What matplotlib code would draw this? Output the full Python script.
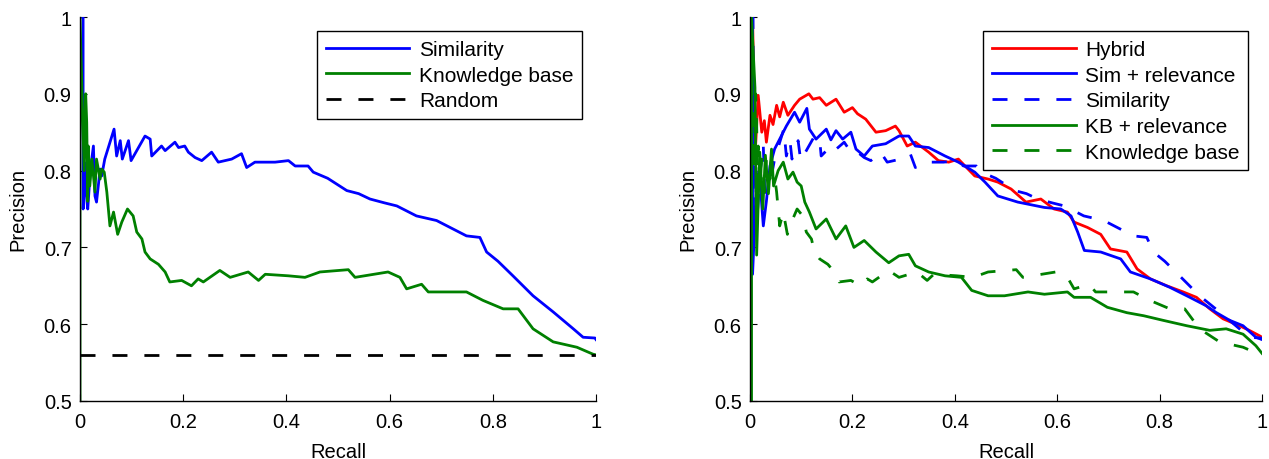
import matplotlib
matplotlib.use("Agg")
import matplotlib.pyplot as plt

plt.rcParams["font.family"] = ["Liberation Sans", "DejaVu Sans"]

# ---- Similarity (left solid blue / right dashed blue)
sim_rec = [0.0, 0.006, 0.006, 0.010, 0.012, 0.015, 0.020, 0.026, 0.029, 0.032, 0.039, 0.042, 0.048,
           0.066, 0.071, 0.078, 0.082, 0.094, 0.099, 0.126, 0.136, 0.139, 0.158, 0.165, 0.184, 0.191,
           0.203, 0.210, 0.223, 0.236, 0.255, 0.268, 0.294, 0.313, 0.323, 0.339, 0.378, 0.404, 0.417,
           0.442, 0.452, 0.480, 0.517, 0.540, 0.562, 0.590, 0.614, 0.652, 0.691, 0.720, 0.749, 0.775,
           0.788, 0.810, 0.839, 0.878, 0.917, 0.956, 0.975, 0.998, 1.0]
sim_prec = [1.0, 1.0, 0.75, 0.81, 0.77, 0.75, 0.80, 0.832, 0.767, 0.759, 0.802, 0.793, 0.815,
            0.854, 0.819, 0.839, 0.815, 0.839, 0.813, 0.845, 0.841, 0.819, 0.832, 0.826, 0.837, 0.830,
            0.832, 0.824, 0.817, 0.813, 0.824, 0.811, 0.815, 0.822, 0.804, 0.811, 0.811, 0.813, 0.806,
            0.806, 0.798, 0.790, 0.774, 0.770, 0.763, 0.758, 0.754, 0.741, 0.735, 0.725, 0.715, 0.713,
            0.694, 0.682, 0.663, 0.637, 0.616, 0.594, 0.583, 0.582, 0.580]

# ---- Knowledge base (left solid green / right dashed green)
kb_rec = [0.0, 0.0, 0.008, 0.011, 0.013, 0.015, 0.016, 0.019, 0.023, 0.029, 0.032, 0.039, 0.042,
          0.047, 0.052, 0.058, 0.065, 0.073, 0.081, 0.092, 0.103, 0.110, 0.120, 0.126, 0.136, 0.152,
          0.165, 0.174, 0.197, 0.216, 0.229, 0.239, 0.271, 0.291, 0.326, 0.346, 0.359, 0.404, 0.436,
          0.465, 0.520, 0.533, 0.597, 0.620, 0.633, 0.662, 0.675, 0.749, 0.781, 0.820, 0.849, 0.878,
          0.917, 0.963, 0.994, 1.0]
kb_prec = [0.5, 1.0, 0.80, 0.90, 0.863, 0.76, 0.832, 0.78, 0.815, 0.772, 0.815, 0.789, 0.802,
           0.798, 0.772, 0.728, 0.746, 0.717, 0.733, 0.750, 0.741, 0.720, 0.711, 0.694, 0.685, 0.678,
           0.668, 0.655, 0.657, 0.650, 0.659, 0.655, 0.670, 0.661, 0.668, 0.657, 0.665, 0.663, 0.661,
           0.668, 0.671, 0.661, 0.668, 0.661, 0.646, 0.652, 0.642, 0.642, 0.631, 0.620, 0.620, 0.594,
           0.577, 0.570, 0.561, 0.560]

random_prec = 0.56

# ---- Hybrid
hyb_rec = [0.0, 0.005, 0.010, 0.016, 0.023, 0.028, 0.032, 0.039, 0.045, 0.052, 0.058, 0.065, 0.074,
           0.087, 0.097, 0.115, 0.123, 0.136, 0.149, 0.168, 0.184, 0.200, 0.210, 0.226, 0.246, 0.265,
           0.284, 0.291, 0.307, 0.323, 0.349, 0.368, 0.388, 0.407, 0.420, 0.439, 0.465, 0.484, 0.510,
           0.539, 0.568, 0.594, 0.620, 0.633, 0.659, 0.685, 0.704, 0.736, 0.756, 0.782, 0.814, 0.846,
           0.872, 0.898, 0.924, 0.956, 0.975, 0.995, 1.0]
hyb_prec = [1.0, 1.0, 0.82, 0.898, 0.850, 0.865, 0.837, 0.872, 0.860, 0.885, 0.870, 0.889, 0.872,
            0.885, 0.893, 0.900, 0.893, 0.895, 0.885, 0.893, 0.876, 0.882, 0.874, 0.867, 0.850, 0.852,
            0.858, 0.852, 0.832, 0.837, 0.824, 0.813, 0.811, 0.815, 0.806, 0.793, 0.789, 0.785, 0.776,
            0.759, 0.763, 0.750, 0.746, 0.733, 0.726, 0.717, 0.698, 0.694, 0.672, 0.659, 0.650, 0.642,
            0.635, 0.620, 0.607, 0.598, 0.592, 0.585, 0.583]

# ---- Sim + relevance
simr_rec = [0.0, 0.005, 0.005, 0.013, 0.018, 0.026, 0.032, 0.039, 0.048, 0.058, 0.071, 0.087, 0.097,
            0.111, 0.116, 0.129, 0.149, 0.158, 0.168, 0.181, 0.197, 0.207, 0.223, 0.239, 0.265, 0.291,
            0.310, 0.323, 0.349, 0.381, 0.407, 0.439, 0.459, 0.484, 0.523, 0.575, 0.607, 0.627, 0.640,
            0.653, 0.685, 0.724, 0.743, 0.782, 0.820, 0.859, 0.891, 0.911, 0.937, 0.963, 0.988, 1.0]
simr_prec = [1.0, 1.0, 0.665, 0.789, 0.80, 0.728, 0.76, 0.806, 0.828, 0.841, 0.858, 0.876, 0.863,
             0.881, 0.854, 0.841, 0.854, 0.840, 0.852, 0.841, 0.850, 0.828, 0.819, 0.832, 0.835, 0.845,
             0.845, 0.832, 0.830, 0.819, 0.811, 0.798, 0.785, 0.767, 0.759, 0.752, 0.750, 0.741, 0.720,
             0.696, 0.694, 0.685, 0.668, 0.659, 0.648, 0.635, 0.624, 0.615, 0.605, 0.598, 0.583, 0.580]

# ---- KB + relevance
kbr_rec = [0.0, 0.003, 0.003, 0.0097, 0.013, 0.019, 0.025, 0.030, 0.036, 0.042, 0.046, 0.055, 0.065,
           0.074, 0.084, 0.092, 0.100, 0.107, 0.116, 0.129, 0.149, 0.168, 0.187, 0.203, 0.223, 0.246,
           0.271, 0.291, 0.310, 0.323, 0.349, 0.381, 0.413, 0.433, 0.465, 0.497, 0.543, 0.575, 0.620,
           0.633, 0.665, 0.698, 0.736, 0.769, 0.807, 0.853, 0.898, 0.930, 0.963, 0.988, 1.0]
kbr_prec = [0.5, 0.5, 1.0, 0.908, 0.69, 0.824, 0.75, 0.82, 0.77, 0.828, 0.78, 0.80, 0.811,
            0.789, 0.798, 0.785, 0.780, 0.759, 0.746, 0.724, 0.737, 0.711, 0.728, 0.700, 0.709, 0.694,
            0.680, 0.689, 0.691, 0.676, 0.668, 0.663, 0.661, 0.644, 0.637, 0.637, 0.642, 0.639, 0.642,
            0.635, 0.635, 0.622, 0.615, 0.611, 0.605, 0.598, 0.592, 0.594, 0.587, 0.572, 0.562]

xticks = [0, 0.2, 0.4, 0.6, 0.8, 1]
xticklabels = ["0", "0.2", "0.4", "0.6", "0.8", "1"]
yticks = [0.5, 0.6, 0.7, 0.8, 0.9, 1]
yticklabels = ["0.5", "0.6", "0.7", "0.8", "0.9", "1"]

BLUE = (0, 0, 1)
GREEN = (0, 0.5, 0)
RED = (1, 0, 0)
LW = 2.0
DASH = (0, (5.4, 6.1))

fig = plt.figure(figsize=(12.69, 4.6), dpi=100)
ax1 = fig.add_axes([80 / 1269, 58 / 460, 516 / 1269, 384 / 460])
ax2 = fig.add_axes([750 / 1269, 58 / 460, 512 / 1269, 384 / 460])

ax1.plot(sim_rec, sim_prec, color=BLUE, lw=LW, label="Similarity")
ax1.plot(kb_rec, kb_prec, color=GREEN, lw=LW, label="Knowledge base")
ax1.plot([0, 1], [random_prec, random_prec], color="k", lw=LW, linestyle=DASH, label="Random")

ax2.plot(hyb_rec, hyb_prec, color=RED, lw=LW, label="Hybrid")
ax2.plot(simr_rec, simr_prec, color=BLUE, lw=LW, label="Sim + relevance")
ax2.plot(sim_rec, sim_prec, color=BLUE, lw=LW, linestyle=DASH, label="Similarity")
ax2.plot(kbr_rec, kbr_prec, color=GREEN, lw=LW, label="KB + relevance")
ax2.plot(kb_rec, kb_prec, color=GREEN, lw=LW, linestyle=DASH, label="Knowledge base")

for ax in (ax1, ax2):
    ax.set_xlim(0, 1)
    ax.set_ylim(0.5, 1)
    ax.set_xticks(xticks)
    ax.set_xticklabels(xticklabels)
    ax.set_yticks(yticks)
    ax.set_yticklabels(yticklabels)
    ax.spines["top"].set_visible(False)
    ax.spines["right"].set_visible(False)
    ax.spines["left"].set_linewidth(1.0)
    ax.spines["bottom"].set_linewidth(1.0)
    ax.tick_params(direction="in", length=5, width=0.8, labelsize=14.5)
    ax.tick_params(axis="x", pad=8)
    ax.tick_params(axis="y", pad=6)
    ax.set_xlabel("Recall", fontsize=14.5, labelpad=8)
    ax.set_ylabel("Precision", fontsize=14.5, labelpad=12)
    leg = ax.legend(loc="upper right", bbox_to_anchor=(0.973, 0.963), fontsize=15,
                    frameon=True, fancybox=False, framealpha=1, edgecolor="k",
                    handlelength=4.0, handletextpad=0.45, labelspacing=0.32,
                    borderpad=0.42, borderaxespad=0)
    leg.get_frame().set_linewidth(1.0)

fig.savefig("out.png", dpi=100)
